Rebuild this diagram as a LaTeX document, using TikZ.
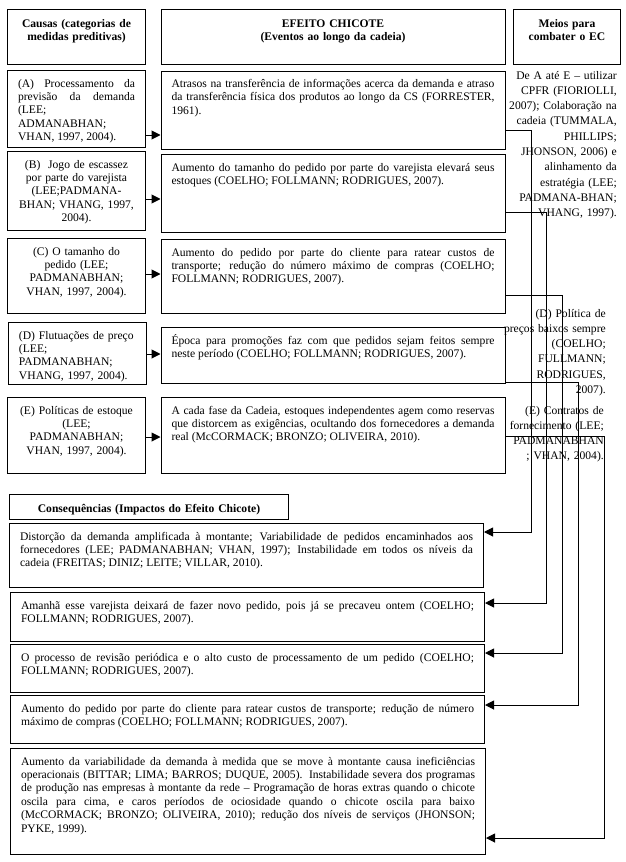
\documentclass[tikz,border=0pt]{standalone}
\usepackage{fontspec}
\setmainfont{Liberation Serif}
\usetikzlibrary{arrows.meta}
\newcommand\fonte{\fontsize{11.6pt}{13.4pt}\selectfont}
\newcommand\fontelado{\fontsize{11.6pt}{15.3pt}\selectfont}

\begin{document}
\begin{tikzpicture}[x=1pt, y=-1pt,
	caixa/.style={draw, line width=1pt, anchor=north west, inner xsep=10.5pt, inner ysep=4pt, text height=12.5pt, font=\fonte},
	cabec/.style={caixa, align=center, text height=14pt, font=\fonte\bfseries},
	causa/.style={caixa, text width=117pt},
	efeito/.style={caixa, text width=323pt, align=justify},
	conseq/.style={caixa, text width=453pt, align=justify},
	meio/.style={anchor=base east, inner sep=0pt, align=right, text width=130pt, font=\fontelado},
	seta/.style={line width=1pt, -{Triangle[length=9pt, width=9pt]}}]
	\path[use as bounding box, fill=white] (0,0) rectangle (626,862);
	\node[cabec, text width=117pt, text depth=33pt] (cabCausas) at (7,9) {Causas (categorias de\\ medidas preditivas)};
	\node[cabec, text width=323pt, text depth=33pt] (cabEfeito) at (160.5,9) {EFEITO CHICOTE\\ (Eventos ao longo da cadeia)};
	\node[cabec, text width=86pt, text depth=33pt] (cabMeios) at (513,9) {Meios para\\ combater o EC};
	\node[causa, align=justify, text depth=56.5pt] (causaA) at (7,70) {(A) Processamento da\linebreak previsão da demanda\linebreak (LEE;\\ ADMANABHAN;\\ VHAN, 1997, 2004).};
	\node[efeito, text depth=58pt] (efA) at (160.5,70.5) {Atrasos na transferência de informações acerca da demanda e atraso\linebreak da transferência física dos produtos ao longo da CS (FORRESTER,\linebreak 1961).};
	\node[causa, align=center, text depth=58.5pt] (causaB) at (7,151) {(B)~ Jogo de escassez\\ por parte do varejista\\ (LEE;PADMANA-\\ BHAN; VHANG, 1997,\\ 2004).};
	\node[efeito, text depth=57.5pt] (efB) at (160.5,154) {Aumento do tamanho do pedido por parte do varejista elevará seus\linebreak estoques (COELHO; FOLLMANN; RODRIGUES, 2007).};
	\node[causa, align=center, text depth=54.5pt] (causaC) at (7,238) {(C) O tamanho do\\ pedido (LEE;\\ PADMANABHAN;\\ VHAN, 1997, 2004).};
	\node[efeito, text depth=53.5pt] (efC) at (160.5,239) {Aumento do pedido por parte do cliente para ratear custos de\linebreak transporte; redução do número máximo de compras (COELHO;\linebreak FOLLMANN; RODRIGUES, 2007).};
	\node[causa, align=left, text depth=41.5pt] (causaD) at (8,322) {(D) Flutuações de preço\\ (LEE;\\ PADMANABHAN;\\ VHANG, 1997, 2004).};
	\node[efeito, text depth=35.5pt] (efD) at (160.5,327) {Época para promoções faz com que pedidos sejam feitos sempre\linebreak neste período (COELHO; FOLLMANN; RODRIGUES, 2007).};
	\node[causa, align=center, text depth=55.5pt] (causaE) at (7,397) {(E) Políticas de estoque\\ (LEE;\\ PADMANABHAN;\\ VHAN, 1997, 2004).};
	\node[efeito, text depth=55.5pt] (efE) at (160.5,397) {A cada fase da Cadeia, estoques independentes agem como reservas\linebreak que distorcem as exigências, ocultando dos fornecedores a demanda\linebreak real (McCORMACK; BRONZO; OLIVEIRA, 2010).};
	\node[meio] (meiosTxt) at (617,79) {De A até E – utilizar\\ CPFR (FIORIOLLI,\\ 2007); Colaboração na\\ cadeia (TUMMALA,\\ PHILLIPS;\\ JHONSON, 2006) e\\ alinhamento da\\ estratégia (LEE;\\ PADMANA-BHAN;\\ VHANG, 1997).};
	\node[meio] (meiosD) at (606,317) {(D) Política de\\ preços baixos sempre\\ (COELHO;\\ FULLMANN;\\ RODRIGUES,\\ 2007).};
	\node[meio] (meiosE) at (604,414) {(E) Contratos de\\ fornecimento (LEE;\\ PADMANABHAN\\ ; VHAN, 2004).};
	\node[cabec, text width=258pt, text depth=3pt] (cabCons) at (9,494) {Consequências (Impactos do Efeito Chicote)};
	\node[conseq, text depth=43.5pt] (conA) at (9,523) {Distorção da demanda amplificada à montante; Variabilidade de pedidos encaminhados aos\linebreak fornecedores (LEE; PADMANABHAN; VHAN, 1997); Instabilidade em todos os níveis da\linebreak cadeia (FREITAS; DINIZ; LEITE; VILLAR, 2010).};
	\node[conseq, text depth=28.5pt] (conB) at (10,592) {Amanhã esse varejista deixará de fazer novo pedido, pois já se precaveu ontem (COELHO;\linebreak FOLLMANN; RODRIGUES, 2007).};
	\node[conseq, text depth=27.5pt] (conC) at (10,644) {O processo de revisão periódica e o alto custo de processamento de um pedido (COELHO;\linebreak FOLLMANN; RODRIGUES, 2007).};
	\node[conseq, text depth=27.5pt] (conD) at (10,695) {Aumento do pedido por parte do cliente para ratear custos de transporte; redução de número\linebreak máximo de compras (COELHO; FOLLMANN; RODRIGUES, 2007).};
	\node[conseq, text width=454pt, text depth=85.5pt] (conE) at (10,748) {Aumento da variabilidade da demanda à medida que se move à montante causa ineficiências\linebreak operacionais (BITTAR; LIMA; BARROS; DUQUE, 2005). Instabilidade severa dos programas\linebreak de produção nas empresas à montante da rede – Programação de horas extras quando o chicote\linebreak oscila para cima, e caros períodos de ociosidade quando o chicote oscila para baixo\linebreak (McCORMACK; BRONZO; OLIVEIRA, 2010); redução dos níveis de serviços (JHONSON;\linebreak PYKE, 1999).};
	\draw[seta] ([yshift=13pt]causaA.south east) -- ([yshift=13pt]causaA.south east -| efA.west);
	\draw[seta] ([yshift=32pt]causaB.south east) -- ([yshift=32pt]causaB.south east -| efB.west);
	\draw[seta] ([yshift=40pt]causaC.south east) -- ([yshift=40pt]causaC.south east -| efC.west);
	\draw[seta] ([yshift=31pt]causaD.south east) -- ([yshift=31pt]causaD.south east -| efD.west);
	\draw[seta] ([yshift=37pt]causaE.south east) -- ([yshift=37pt]causaE.south east -| efE.west);
	\draw[seta] ([yshift=20pt]efA.south east) -- ++(25.5,0) |- ([yshift=-9pt]conA.north east);
	\draw[seta] ([yshift=21pt]efB.south east) -- ++(40.5,0) |- ([yshift=-11pt]conB.north east);
	\draw[seta] ([yshift=19pt]efC.south east) -- ++(56.5,0) |- ([yshift=-9pt]conC.north east);
	\draw[seta] ([yshift=2pt]efD.south east) -- ++(72.5,0) |- ([yshift=-10pt]conD.north east);
	\draw[seta] ([yshift=38pt]efE.south east) -- ++(98.5,0) |- ([yshift=17pt]conE.south east);
\end{tikzpicture}
\end{document}
